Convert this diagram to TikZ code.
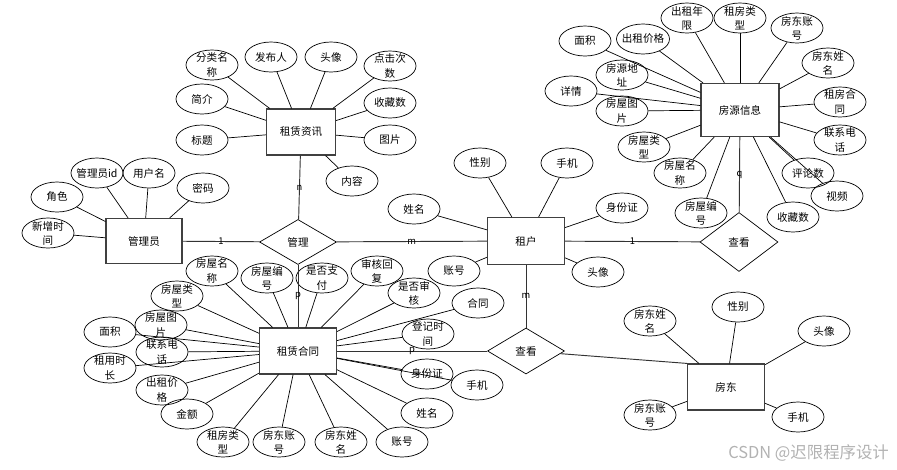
\documentclass[tikz,border=0pt]{standalone}
\usepackage{fontspec}
\setmainfont{Noto Sans CJK SC}
\usetikzlibrary{shapes.geometric}
\tikzset{
  every picture/.style={font=\fontsize{9}{12}\selectfont},
  entity/.style={draw=black!75, line width=1pt, minimum width=2.31cm, minimum height=1.38cm, inner sep=0pt},
  rel/.style={diamond, draw, line width=0.6pt, minimum width=2.31cm, minimum height=1.35cm, inner sep=0pt},
  attr/.style={ellipse, draw, line width=0.6pt, minimum width=1.56cm, minimum height=0.9cm, inner xsep=-2pt, inner ysep=-3pt, align=center},
  attrline/.style={draw, line width=0.6pt},
  relline/.style={draw=black!80, line width=0.8pt},
  card/.style={font=\fontsize{8}{9}\selectfont, inner sep=1pt},
}

\begin{document}
\begin{tikzpicture}[x=0.03cm, y=-0.03cm]
  \useasboundingbox (0,0) rectangle (897,469);
  % entities
  \node[entity, minimum width=2.07cm] (rz) at (301,132) {租赁资讯};
  \node[entity, minimum width=2.28cm, minimum height=1.35cm] (gly) at (144,241) {管理员};
  \node[entity, minimum height=1.41cm] (zh) at (526,241) {租户};
  \node[entity, minimum width=2.34cm, minimum height=1.59cm] (fy) at (740,110) {房源信息};
  \node[entity] (ht) at (298,351) {租赁合同};
  \node[entity] (fd) at (726,387) {房东};
  % relationships
  \node[rel] (gl) at (298,242) {管理};
  \node[rel, minimum width=2.34cm, minimum height=1.77cm] (ck1) at (739,242) {查看};
  \node[rel, minimum height=1.38cm] (ck2) at (526,351) {查看};
  % attributes
  \foreach \i/\xy/\t in {1/{212,65}/{分类名\\称}, 2/{271,57}/发布人, 3/{331,57}/头像,
      4/{390,66}/{点击次\\数}, 5/{202,99}/简介, 6/{390,103}/收藏数, 7/{202,140}/标题,
      8/{390,140}/图片, 9/{352,181}/内容} {
    \node[attr] (rz\i) at (\xy) {\t};
    \draw[attrline] (rz) -- (rz\i);
  }
  \foreach \i/\xy/\t in {1/{97,173}/管理员id, 2/{149,173}/用户名, 3/{203,188}/密码,
      4/{57,197}/角色, 5/{48,233}/{新增时\\间}} {
    \node[attr] (gly\i) at (\xy) {\t};
    \draw[attrline] (gly) -- (gly\i);
  }
  \foreach \i/\xy/\t in {1/{414,209}/姓名, 2/{480,163}/性别, 3/{567,163}/手机,
      4/{622,208}/身份证, 5/{598,272}/头像, 6/{454,271}/账号} {
    \node[attr] (zh\i) at (\xy) {\t};
    \draw[attrline] (zh) -- (zh\i);
  }
  \foreach \i/\xy/\t in {1/{585,41}/面积, 2/{643,39}/出租价格, 3/{687,18}/{出租年\\限},
      4/{740,18}/{租房类\\型}, 5/{797,28}/{房东账\\号}, 6/{828,63}/{房东姓\\名},
      7/{840,102}/{租房合\\同}, 8/{840,140}/{联系电\\话}, 9/{808,173}/评论数,
      10/{837,196}/视频, 11/{793,217}/收藏数, 12/{701,213}/{房屋编\\号},
      13/{680,173}/{房屋名\\称}, 14/{644,147}/{房屋类\\型}, 15/{622,111}/{房屋图\\片},
      16/{571,91}/详情, 17/{622,75}/{房源地\\址}} {
    \node[attr] (fy\i) at (\xy) {\t};
    \draw[attrline] (fy) -- (fy\i);
  }
  \foreach \i/\xy/\t in {1/{212,271}/{房屋名\\称}, 2/{267,278}/{房屋编\\号},
      3/{322,278}/{是否支\\付}, 4/{377,271}/{审核回\\复}, 5/{414,293}/{是否审\\核},
      6/{478,303}/合同, 7/{428,334}/{登记时\\间}, 8/{427,374}/身份证, 9/{477,385}/手机,
      10/{427,413}/姓名, 11/{402,442}/账号, 12/{341,442}/{房东姓\\名},
      13/{279,442}/{房东账\\号}, 14/{223,442}/{租房类\\型}, 15/{187,414}/金额,
      16/{162,390}/{出租价\\格}, 17/{110,368}/{租用时\\长}, 18/{162,352}/{联系电\\话},
      19/{110,332}/面积, 20/{161,325}/{房屋图\\片}, 21/{177,296}/{房屋类\\型}} {
    \node[attr] (ht\i) at (\xy) {\t};
    \draw[attrline] (ht) -- (ht\i);
  }
  \foreach \i/\xy/\t in {1/{650,321}/{房东姓\\名}, 2/{738,307}/性别, 3/{824,331}/头像,
      4/{650,415}/{房东账\\号}, 5/{798,417}/手机} {
    \node[attr] (fd\i) at (\xy) {\t};
    \draw[attrline] (fd) -- (fd\i);
  }
  % relationship lines
  \draw[relline] (rz) -- node[card] {n} (gl);
  \draw[relline] (gly) -- node[card] {1} (gl);
  \draw[relline] (gl) -- node[card] {m} (zh);
  \draw[relline] (gl) -- node[card] {p} (ht);
  \draw[relline] (zh) -- node[card] {1} (ck1);
  \draw[relline] (fy) -- node[card] {q} (ck1);
  \draw[relline] (zh) -- node[card] {m} (ck2);
  \draw[relline] (ht) -- node[card] {p} (ck2);
  \draw[relline] (ck2) -- (fd.north west);
  \node[anchor=east, text=black!30, font=\fontsize{14}{16}\selectfont] (wm) at (893,453) {CSDN @迟限程序设计};
\end{tikzpicture}
\end{document}
